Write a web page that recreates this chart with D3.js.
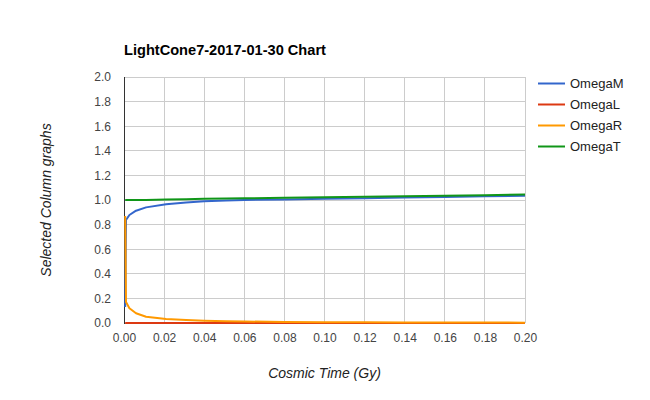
<!DOCTYPE html>
<html><head><meta charset="utf-8">
<script src="https://cdn.jsdelivr.net/npm/d3@7"></script>
<style>body{margin:0;background:#fff;} svg{display:block;font-family:"Liberation Sans",Arial,sans-serif;}</style>
</head><body>
<svg id="c" width="650" height="400"></svg>
<script>
const title = "LightCone7-2017-01-30 Chart";
const xLabel = "Cosmic Time (Gy)";
const yLabel = "Selected Column graphs";
const seriesNames = ["OmegaM", "OmegaL", "OmegaR", "OmegaT"];
const seriesColors = ["#3366cc", "#dc3912", "#ff9900", "#109618"];
const xTicks = [0,0.02,0.04,0.06,0.08,0.1,0.12,0.14,0.16,0.18,0.2];
const yTicks = [0,0.2,0.4,0.6,0.8,1.0,1.2,1.4,1.6,1.8,2.0];
const time   = [0.0006, 0.001, 0.0027, 0.006, 0.011, 0.021, 0.031, 0.04, 0.051, 0.06, 0.08, 0.1, 0.12, 0.14, 0.16, 0.18, 0.2];
const omegaM = [0.13, 0.837, 0.878, 0.913, 0.94, 0.965, 0.98, 0.99, 0.995, 1.0, 1.005, 1.01, 1.015, 1.02, 1.025, 1.03, 1.035];
const omegaL = [0, 0, 0, 0, 0, 0, 0, 0, 0, 0, 0, 0, 0, 0, 0, 0, 0];
const omegaR = [0.87, 0.17, 0.12, 0.079, 0.051, 0.033, 0.024, 0.019, 0.014, 0.012, 0.009, 0.007, 0.006, 0.005, 0.004, 0.004, 0.003];
const omegaT = [1.0, 1.0, 1.0, 1.0, 1.0, 1.005, 1.007, 1.01, 1.012, 1.014, 1.018, 1.022, 1.026, 1.03, 1.034, 1.039, 1.044];
const seriesValues = [omegaM, omegaL, omegaR, omegaT];

const svg = d3.select("#c");
const L = 124, R = 525, T = 77, B = 323;
const x = d3.scaleLinear().domain([0, 0.2]).range([L, R]);
const y = d3.scaleLinear().domain([0, 2]).range([B, T]);

// gridlines
svg.append("g").selectAll("line").data(yTicks).join("line")
  .attr("x1", L).attr("x2", R).attr("y1", d => y(d)).attr("y2", d => y(d))
  .attr("stroke", "#cccccc").attr("stroke-width", 1).attr("shape-rendering","crispEdges");
svg.append("g").selectAll("line").data(xTicks).join("line")
  .attr("x1", d => x(d)).attr("x2", d => x(d)).attr("y1", T).attr("y2", B)
  .attr("stroke", "#cccccc").attr("stroke-width", 1).attr("shape-rendering","crispEdges");

// axes
const xAxis = svg.append("g").attr("transform", `translate(0,${B})`)
  .call(d3.axisBottom(x).tickValues(xTicks).tickFormat(d3.format(".2f")).tickSize(0).tickPadding(10));
const yAxis = svg.append("g").attr("transform", `translate(${L},0)`)
  .call(d3.axisLeft(y).tickValues(yTicks).tickFormat(d3.format(".1f")).tickSize(0).tickPadding(13));
[xAxis, yAxis].forEach(a => {
  a.select(".domain").remove();
  a.selectAll("text").attr("fill", "#444444").attr("font-size", 12).attr("font-family", "Liberation Sans, Arial, sans-serif");
});

// axis lines
svg.append("line").attr("x1", L).attr("x2", L).attr("y1", T).attr("y2", B+1)
  .attr("stroke", "#333333").attr("stroke-width", 1).attr("shape-rendering","crispEdges");
svg.append("line").attr("x1", L).attr("x2", R).attr("y1", B).attr("y2", B)
  .attr("stroke", "#333333").attr("stroke-width", 1).attr("shape-rendering","crispEdges").attr("opacity", 0.4);

// lines
const line = d3.line().x((d, i) => x(time[i])).y(d => y(d));
seriesValues.forEach((vals, k) => {
  svg.append("path").datum(vals).attr("d", line)
    .attr("fill", "none").attr("stroke", seriesColors[k]).attr("stroke-width", 2)
    .attr("stroke-linejoin", "round");
});

// title
svg.append("text").attr("x", L).attr("y", 55).text(title)
  .attr("font-size", 14.6).attr("font-weight", "bold").attr("fill", "#000");

// axis titles
svg.append("text").attr("x", (L + R) / 2).attr("y", 378).attr("text-anchor", "middle")
  .attr("font-size", 14).attr("font-style", "italic").attr("fill", "#222").text(xLabel);
svg.append("text").attr("transform", `translate(51,${(T + B) / 2}) rotate(-90)`).attr("text-anchor", "middle")
  .attr("font-size", 14).attr("font-style", "italic").attr("fill", "#222").text(yLabel);

// legend
const lg = svg.append("g");
seriesNames.forEach((n, i) => {
  const yy = 83.5 + i * 21;
  lg.append("line").attr("x1", 538).attr("x2", 565).attr("y1", yy).attr("y2", yy)
    .attr("stroke", seriesColors[i]).attr("stroke-width", 2);
  lg.append("text").attr("x", 570).attr("y", yy + 4.5).attr("font-size", 13).attr("fill", "#222").text(n);
});
</script>
</body></html>
